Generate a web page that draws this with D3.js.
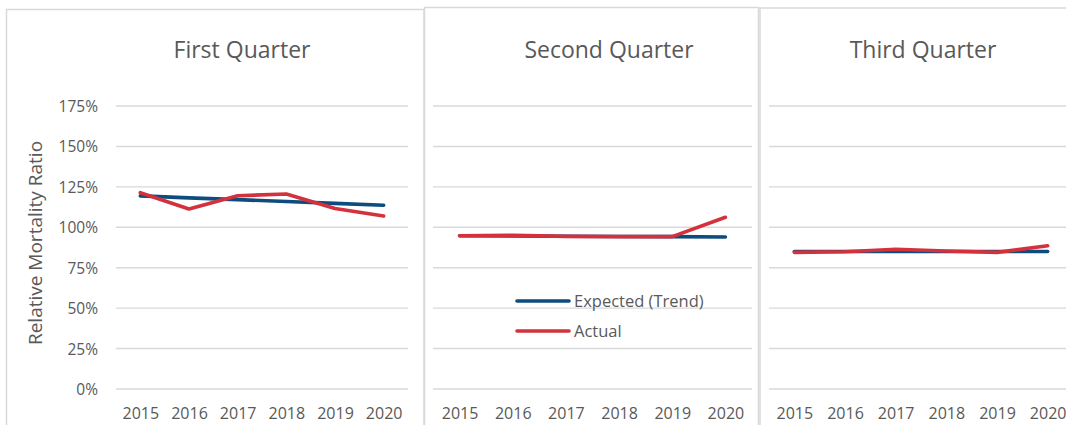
<!DOCTYPE html>
<html>
<head>
<meta charset="utf-8">
<script src="https://cdn.jsdelivr.net/npm/d3@7/dist/d3.min.js"></script>
<style>
  html, body { margin: 0; padding: 0; background: #fff; }
  svg { display: block; }
  text { font-family: "Open Sans", sans-serif; fill: #595959; }
</style>
</head>
<body>
<svg id="chart" width="1066" height="425"></svg>
<script>
const years = ["2015", "2016", "2017", "2018", "2019", "2020"];
const yTicks = [0, 25, 50, 75, 100, 125, 150, 175];
const panelTitles = ["First Quarter", "Second Quarter", "Third Quarter"];
const seriesNames = ["Expected (Trend)", "Actual"];

const q1Expected = [119.4, 118.2, 117.1, 115.9, 114.8, 113.6];
const q1Actual   = [121.4, 111.3, 119.5, 120.6, 111.6, 107.0];
const q2Expected = [94.8, 94.6, 94.5, 94.3, 94.2, 94.0];
const q2Actual   = [94.8, 95.1, 94.4, 94.2, 94.2, 106.2];
const q3Expected = [85.0, 85.0, 85.0, 85.0, 85.0, 85.0];
const q3Actual   = [84.5, 84.9, 86.4, 85.3, 84.5, 88.6];

const colors = ["#0E4C7E", "#D3323D"];

const panels = [
  { title: panelTitles[0], expected: q1Expected, actual: q1Actual,
    frame: [6.5, 9.5, 417.5, 430], grid: [116, 408], titleX: 242, yAxis: true, legend: false },
  { title: panelTitles[1], expected: q2Expected, actual: q2Actual,
    frame: [424.5, 7.5, 334, 430], grid: [433, 752], titleX: 609, yAxis: false, legend: true },
  { title: panelTitles[2], expected: q3Expected, actual: q3Actual,
    frame: [760, 8, 400, 430], grid: [769, 1073], titleX: 923, yAxis: false, legend: false }
];

const svg = d3.select("#chart");
const y = d3.scaleLinear().domain([0, 175]).range([389, 106]);

panels.forEach(p => {
  const g = svg.append("g");
  g.append("rect")
    .attr("x", p.frame[0]).attr("y", p.frame[1])
    .attr("width", p.frame[2]).attr("height", p.frame[3])
    .attr("fill", "none").attr("stroke", "#D9D9D9").attr("stroke-width", 1.5);

  const x = d3.scalePoint().domain(years).range(p.grid).padding(0.5);

  g.append("g").selectAll("line").data(yTicks).join("line")
    .attr("x1", p.grid[0]).attr("x2", p.grid[1])
    .attr("y1", d => y(d)).attr("y2", d => y(d))
    .attr("stroke", "#D9D9D9").attr("stroke-width", 1.4);

  g.append("text")
    .attr("x", p.titleX)
    .attr("y", 58)
    .attr("text-anchor", "middle")
    .style("font-size", "23px")
    .text(p.title);

  const xAxis = d3.axisBottom(x).tickSize(0).tickPadding(0);
  const xa = g.append("g").attr("transform", "translate(0,413)").call(xAxis);
  xa.select(".domain").remove();
  xa.selectAll("text")
    .attr("dy", "0.35em").attr("y", 0)
    .style("font-size", "16px").style("font-family", "'Open Sans', sans-serif")
    .attr("fill", "#595959");

  if (p.yAxis) {
    const yAxis = d3.axisLeft(y).tickValues(yTicks).tickSize(0).tickPadding(0)
      .tickFormat(d => d + "%");
    const ya = g.append("g").attr("transform", "translate(98,0)").call(yAxis);
    ya.select(".domain").remove();
    ya.selectAll("text")
      .attr("dy", "0.35em")
      .style("font-size", "15.5px").style("font-family", "'Open Sans', sans-serif")
      .attr("fill", "#595959");

    g.append("text")
      .attr("transform", "translate(42,243) rotate(-90)")
      .attr("text-anchor", "middle")
      .style("font-size", "19px")
      .text("Relative Mortality Ratio");
  }

  const line = d3.line().x((d, i) => x(years[i])).y(d => y(d));
  [p.expected, p.actual].forEach((s, k) => {
    g.append("path")
      .attr("d", line(s))
      .attr("fill", "none")
      .attr("stroke", colors[k])
      .attr("stroke-width", 3.6)
      .attr("stroke-linecap", "round")
      .attr("stroke-linejoin", "round");
  });

  if (p.legend) {
    const lg = g.append("g");
    const ly = [301, 331];
    seriesNames.forEach((name, k) => {
      lg.append("line")
        .attr("x1", 517).attr("x2", 569)
        .attr("y1", ly[k]).attr("y2", ly[k])
        .attr("stroke", colors[k]).attr("stroke-width", 3.6)
        .attr("stroke-linecap", "round");
      lg.append("text")
        .attr("x", 574).attr("y", ly[k])
        .attr("dy", "0.35em")
        .style("font-size", "16.5px")
        .text(name);
    });
  }
});
</script>
</body>
</html>
